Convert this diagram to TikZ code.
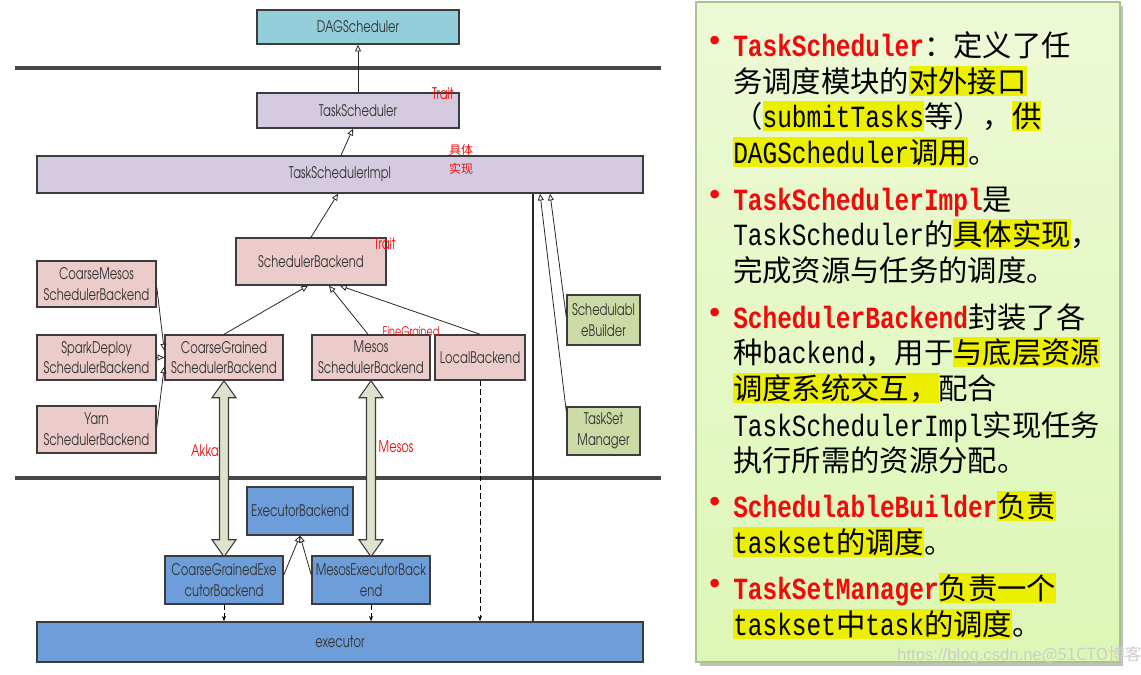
\documentclass[tikz,border=0pt]{standalone}
\usepackage{fontspec}
\setmainfont{Liberation Sans}
\newfontfamily\cjk{Noto Sans CJK SC}
\newfontfamily\lat[Scale=1.05,FakeStretch=0.794]{Liberation Mono}
\newfontfamily\dg[FakeStretch=0.72]{TeX Gyre Adventor}
\newfontfamily\bul{DejaVu Sans}
\usetikzlibrary{arrows.meta,calc}
\definecolor{tealc}{RGB}{149,206,219}
\definecolor{lavc}{RGB}{212,203,224}
\definecolor{pinkc}{RGB}{235,204,203}
\definecolor{greenc}{RGB}{204,219,166}
\definecolor{bluec}{RGB}{110,158,218}
\definecolor{blkc}{RGB}{221,226,204}
\definecolor{bordc}{RGB}{60,60,60}
\definecolor{txtc}{RGB}{50,50,50}
\definecolor{linec}{RGB}{40,40,40}
\definecolor{sepc}{RGB}{72,72,72}
\definecolor{redc}{RGB}{240,10,10}
\definecolor{hly}{RGB}{236,240,0}
\definecolor{paneltop}{RGB}{237,249,214}
\definecolor{panelbot}{RGB}{221,247,182}
\definecolor{panelbd}{RGB}{168,196,140}
\definecolor{wmc}{RGB}{205,205,205}
\newcommand\hlx[1]{{\setlength{\fboxsep}{0pt}\colorbox{hly}{\rule[-0.12em]{0pt}{0.99em}#1}}}
\newcommand\latn[1]{{\lat #1}}
\newcommand\latr[1]{{\lat\bfseries\color{redc}#1}}
\tikzset{
  x=0.75pt, y=-0.75pt,
  box/.style={draw=bordc, line width=1.1pt, text=txtc, align=center,
    font=\dg\fontsize{12}{15.5}\selectfont, inner sep=0pt},
  inh/.style={draw=linec, line width=0.6pt, -{Triangle[open,length=5pt,width=4.5pt]}},
  plainline/.style={draw=linec, line width=0.8pt},
  dep/.style={draw=black, line width=0.6pt, dash pattern=on 4pt off 2.5pt,
    -{Stealth[length=4pt,width=3pt]}},
  blk/.style={draw=bordc, fill=blkc, line width=0.8pt, line join=miter},
  sepline/.style={draw=sepc, line width=2.3pt},
  lbl/.style={text=redc, font=\dg\fontsize{12}{12}\selectfont, inner sep=0pt},
  pline/.style={anchor=base west, inner sep=0pt, font=\cjk\fontsize{22}{22}\selectfont},
  bullet/.style={text=redc, font=\bul\fontsize{22}{22}\selectfont, inner sep=0pt},
}
\begin{document}
\begin{tikzpicture}
\useasboundingbox (0,0) rectangle (1141,674);
\fill[white] (0,0) rectangle (1141,674);

% separators
\draw[sepline] (15,68) -- (661,68);
\draw[sepline] (15,478) -- (661,478);

% boxes
\node[box, fill=tealc, minimum width=151.5pt, minimum height=25.5pt] (dag) at (358,27) {DAGScheduler};
\node[box, fill=lavc, minimum width=151.5pt, minimum height=26.25pt] (ts) at (358,110.5) {TaskScheduler};
\node[box, fill=lavc, minimum width=454.5pt, minimum height=27.75pt] (tsi) at (340,174.5) {TaskSchedulerImpl};
\node[box, fill=pinkc, minimum width=112.5pt, minimum height=35.25pt] (sb) at (311,261.5) {SchedulerBackend};
\node[box, fill=pinkc, minimum width=89.25pt, minimum height=34.5pt] (cmsb) at (96.5,284) {CoarseMesos\\SchedulerBackend};
\node[box, fill=pinkc, minimum width=89.25pt, minimum height=33.75pt] (sdsb) at (96.5,357.5) {SparkDeploy\\SchedulerBackend};
\node[box, fill=pinkc, minimum width=89.25pt, minimum height=35.25pt] (ysb) at (96.5,429.5) {Yarn\\SchedulerBackend};
\node[box, fill=pinkc, minimum width=88.5pt, minimum height=33.75pt] (cgsb) at (224,357.5) {CoarseGrained\\SchedulerBackend};
\node[box, fill=pinkc, minimum width=88.5pt, minimum height=33.75pt] (msb) at (371,357.5) {Mesos\\SchedulerBackend};
\node[box, fill=pinkc, minimum width=67.5pt, minimum height=33.75pt] (lb) at (480,357.5) {LocalBackend};
\node[box, fill=greenc, minimum width=54.75pt, minimum height=37.5pt] (sbld) at (603.5,320) {Schedulabl\\eBuilder};
\node[box, fill=greenc, minimum width=54.75pt, minimum height=36pt] (tsm) at (603.5,431) {TaskSet\\Manager};
\node[box, fill=bluec, minimum width=79.5pt, minimum height=36pt] (eb) at (300,511) {ExecutorBackend};
\node[box, fill=bluec, minimum width=88.5pt, minimum height=36pt] (cgeb) at (224,580) {CoarseGrainedExe\\cutorBackend};
\node[box, fill=bluec, minimum width=88.5pt, minimum height=36pt] (meb) at (371,580) {MesosExecutorBack\\end};
\node[box, fill=bluec, minimum width=454.5pt, minimum height=30pt] (ex) at (340,642) {executor};

% labels
\node[lbl] (trait1) at (443,94) {Trait};
\node[lbl] (trait2) at (385,244) {Trait};
\node[lbl, font=\cjk\fontsize{9}{9}\selectfont] (jt1) at (461,150) {具体};
\node[lbl, font=\cjk\fontsize{9}{9}\selectfont] (jt2) at (461,169) {实现};
\node[lbl, font=\dg\fontsize{10}{10}\selectfont] (fg) at (411,332) {FineGrained};
\node[lbl] (akka) at (205,451) {Akka};
\node[lbl] (mesosl) at (396,447) {Mesos};

% connectors
\draw[inh] (ts.north) -- (dag.south);
\draw[inh] ($(tsi.north)+(1,0)$) -- ($(ts.south)+(-5,0)$);
\draw[inh] (sb.north) -- ($(tsi.south)+(-2,0)$);
\draw[inh] (cgsb.north) -- ($(sb.south)+(-3,0)$);
\draw[inh] ($(msb.north)+(-3,0)$) -- ($(sb.south)+(18,0)$);
\draw[inh] (lb.north) -- ($(sb.south)+(29,0)$);
\draw[inh] ($(cmsb.east)+(0,3)$) -- ($(cgsb.west)+(0,-7)$);
\draw[inh] (sdsb.east) -- (cgsb.west);
\draw[inh] ($(ysb.east)+(0,-2)$) -- ($(cgsb.west)+(0,9)$);
\draw[inh] ($(sbld.west)+(0,-3)$) -- ($(tsi.south)+(210,0)$);
\draw[inh] ($(tsm.north west)+(0,5)$) -- ($(tsi.south)+(200,0)$);
\draw[plainline] ($(tsi.south)+(193,0)$) -- ($(ex.north)+(193,0)$);
\draw[inh] ($(cgeb.east)+(0,-5)$) -- (eb.south);
\draw[inh] ($(meb.west)+(0,-5)$) -- (eb.south);
\draw[dep] (cgeb.south) -- (cgeb.south |- ex.north);
\draw[dep] (meb.south) -- (meb.south |- ex.north);
\draw[dep] (lb.south) -- (lb.south |- ex.north);

% block arrows
\draw[blk] (cgsb.south) -- ++(12,17) -- ++(-7.5,0) -- ++(0,142) -- ++(7.5,0) -- ++(-12,17)
  -- ++(-12,-17) -- ++(7.5,0) -- ++(0,-142) -- ++(-7.5,0) -- cycle;
\draw[blk] (msb.south) -- ++(12,17) -- ++(-7.5,0) -- ++(0,142) -- ++(7.5,0) -- ++(-12,17)
  -- ++(-12,-17) -- ++(7.5,0) -- ++(0,-142) -- ++(-7.5,0) -- cycle;

% right panel
\fill[black!25] (700,6) rectangle (1123,666);
\shade[top color=paneltop, bottom color=panelbot, draw=panelbd, line width=1.1pt] (696,2) rectangle (1120,662);

\node[bullet] (b1) at (715,44) {•};
\node[bullet] (b2) at (715,198) {•};
\node[bullet] (b3) at (715,316) {•};
\node[bullet] (b4) at (715,505) {•};
\node[bullet] (b5) at (715,587) {•};

\node[pline] (t1) at (733,56) {\latr{TaskScheduler}：定义了任};
\node[pline] (t2) at (733,92) {务调度模块的\hlx{对外接口}};
\node[pline] (t3) at (733,127) {（\hlx{\latn{submitTasks}}等），\hlx{供}};
\node[pline] (t4) at (733,163) {\hlx{\latn{DAGScheduler}调用}。};
\node[pline] (t5) at (733,210) {\latr{TaskSchedulerImpl}是};
\node[pline] (t6) at (733,245) {\latn{TaskScheduler}的\hlx{具体实现}，};
\node[pline] (t7) at (733,281) {完成资源与任务的调度。};
\node[pline] (t8) at (733,328) {\latr{SchedulerBackend}封装了各};
\node[pline] (t9) at (733,363) {种\latn{backend}，用于\hlx{与底层资源}};
\node[pline] (t10) at (733,399) {\hlx{调度系统交互，}配合};
\node[pline] (t11) at (733,436) {\latn{TaskSchedulerImpl}实现任务};
\node[pline] (t12) at (733,471) {执行所需的资源分配。};
\node[pline] (t13) at (733,517) {\latr{SchedulableBuilder}\hlx{负责}};
\node[pline] (t14) at (733,553) {\hlx{\latn{taskset}的调度}。};
\node[pline] (t15) at (733,599) {\latr{TaskSetManager}\hlx{负责一个}};
\node[pline] (t16) at (733,635) {\hlx{\latn{taskset}中\latn{task}的调度}。};

\node[anchor=west, inner sep=0pt, text=wmc, font=\fontsize{12.5}{12.5}\selectfont] (wm) at (897,655) {https://blog.csdn.ne{\cjk @51CTO博客}};
\end{tikzpicture}
\end{document}
